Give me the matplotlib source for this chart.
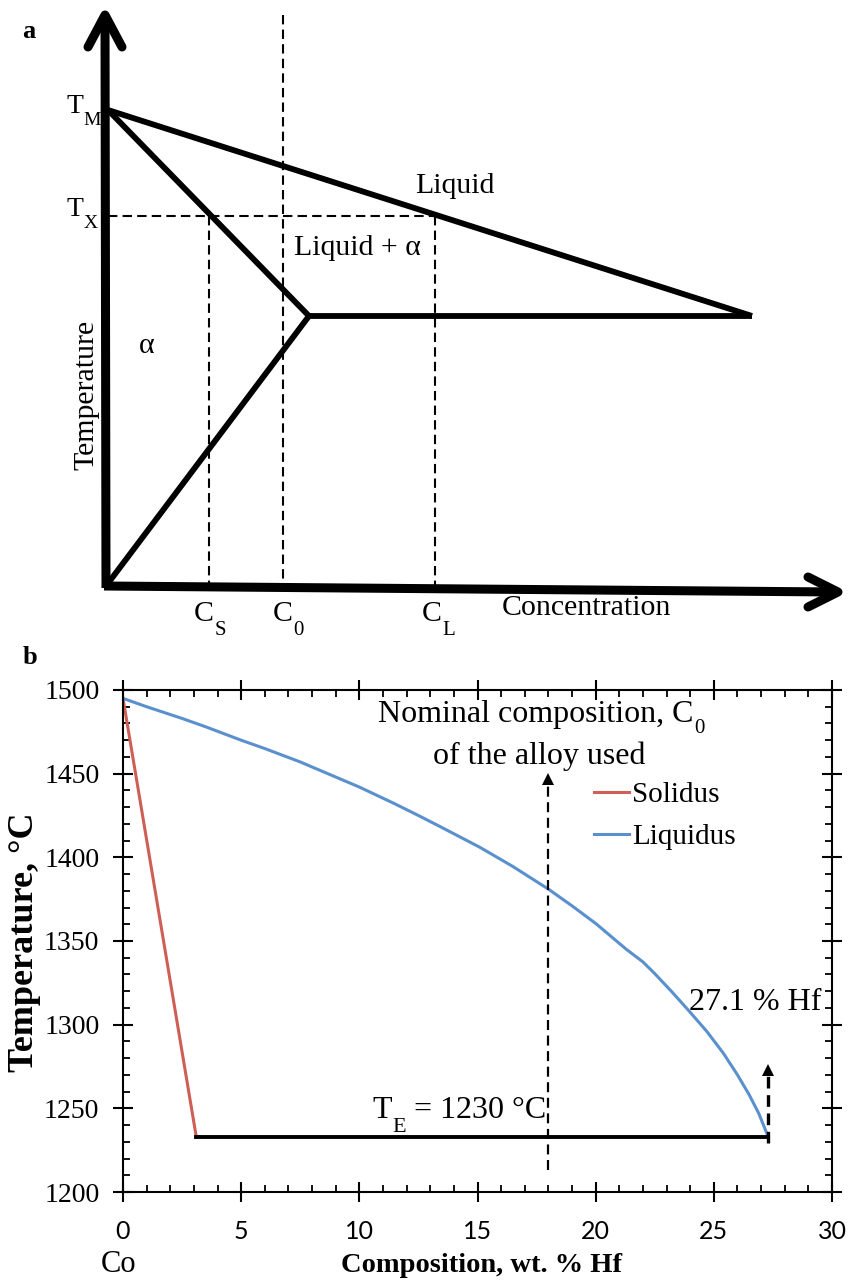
import matplotlib
matplotlib.use("Agg")
import matplotlib.pyplot as plt

plt.rcParams['font.family'] = ['Liberation Serif', 'DejaVu Serif']

# panel b data
solidus_wt = [0, 3.1]
solidus_T = [1495, 1233]
liquidus_wt = [0, 1, 2.5, 3.5, 5, 6, 7.5, 8.5, 10, 11.5, 12.5, 13.4, 15.1, 16.5, 18,
               19, 20, 21.3, 22, 22.5, 23.2, 23.9, 24.7, 25.4, 26, 26.5, 26.9, 27.3]
liquidus_T = [1495, 1490, 1483, 1478, 1470, 1465, 1457, 1451, 1442, 1432, 1425, 1418.5, 1406, 1394.5, 1381,
              1371, 1360.5, 1345, 1337.5, 1330.5, 1320, 1309, 1296, 1283, 1270, 1258, 1247, 1233]
eutectic_wt = [3.1, 27.3]
eutectic_T = [1233, 1233]
c0_wt = 18
c0_arrow_T = [1213, 1447]
ce_wt = 27.3
ce_arrow_T = [1229, 1273]
xticks = [0, 5, 10, 15, 20, 25, 30]
yticks = [1200, 1250, 1300, 1350, 1400, 1450, 1500]

# panel a schematic, in figure pixels
tm = (108, 110)
eut = (309, 316)
liq_end = (752, 316)
origin = (106, 586)
tx_y = 216
cs_x, c0_x, cl_x = 209, 283, 435
vaxis = [(106, 588), (105, 18)]
haxis = [(104, 586), (836, 592)]


def sub_label(ax, x, y, main, sub, size, subsize, drop, **kw):
    # word-style subscript: hangs below the baseline of the main text
    t = ax.text(x, y, main, fontsize=size, va='baseline', **kw)
    ax.annotate(sub, xy=(1, 0), xycoords=t, xytext=(0.3, -drop), textcoords='offset points',
                fontsize=subsize, ha='left', va='baseline')
    return t


fig = plt.figure(figsize=(8.52, 12.81), dpi=100)

# ---------- panel a ----------
H = 640
axa = fig.add_axes([0, 1 - H / 1281, 1, H / 1281])
axa.set_xlim(0, 852)
axa.set_ylim(H, 0)
axa.axis('off')

thick = dict(color='black', lw=6.5, solid_capstyle='round')
axa.plot([p[0] for p in vaxis], [p[1] for p in vaxis], color='black', lw=6.5, solid_capstyle='butt')
axa.plot([p[0] for p in haxis], [p[1] for p in haxis], color='black', lw=6.5, solid_capstyle='butt')
axa.plot([88, 105, 122], [47, 15, 47], **thick)
axa.plot([808, 838, 808], [577, 592, 607], **thick)

ph = dict(color='black', lw=4.2, solid_joinstyle='miter', solid_capstyle='butt')
axa.plot([tm[0], liq_end[0]], [tm[1], liq_end[1]], **ph)
axa.plot([tm[0], eut[0], origin[0]], [tm[1], eut[1], origin[1]], **ph)
axa.plot([eut[0], liq_end[0]], [eut[1], liq_end[1]], **ph)

dash = dict(color='black', lw=1.5, dashes=(4.5, 2.5))
axa.plot([108, cl_x], [tx_y, tx_y], **dash)
axa.plot([cs_x, cs_x], [tx_y, 586], **dash)
axa.plot([c0_x, c0_x], [15, 586], **dash)
axa.plot([cl_x, cl_x], [tx_y, 588], **dash)

fs_a = 21.5
sub_label(axa, 83, 113, 'T', 'M', 20, 14, 4.3, ha='right')
sub_label(axa, 83, 216, 'T', 'X', 20, 14, 4.3, ha='right')
axa.text(455, 193, 'Liquid', fontsize=fs_a, ha='center', va='baseline')
axa.text(357, 255, 'Liquid + α', fontsize=fs_a, ha='center', va='baseline')
axa.text(147, 353, 'α', fontsize=fs_a, ha='center', va='baseline')
axa.text(86, 395, 'Temperature', fontsize=fs_a, rotation=90, ha='center', va='center')
sub_label(axa, 214, 621, 'C', 'S', fs_a, 15, 6, ha='right')
sub_label(axa, 293, 621, 'C', '0', fs_a, 15, 6, ha='right')
sub_label(axa, 442, 621, 'C', 'L', fs_a, 15, 6, ha='right')
axa.text(586, 615, 'Concentration', fontsize=fs_a, ha='center', va='baseline')
axa.text(29, 38, 'a', fontsize=19, fontweight='bold', ha='center', va='baseline')

# ---------- panel b ----------
left, right, top, bottom = 123, 832, 690, 1192
ax = fig.add_axes([left / 852, 1 - bottom / 1281, (right - left) / 852, (bottom - top) / 1281])
ax.plot(solidus_wt, solidus_T, color='#cf5f55', lw=2.2, label='Solidus')
ax.plot(liquidus_wt, liquidus_T, color='#5a90cd', lw=2.2, label='Liquidus')
ax.plot(eutectic_wt, eutectic_T, color='black', lw=2.8)

ax.plot([c0_wt, c0_wt], c0_arrow_T, color='black', lw=1.6, dashes=(4.5, 2.5))
ax.plot([c0_wt], [c0_arrow_T[1]], marker='^', color='black', ms=9, mew=0)
ax.plot([ce_wt, ce_wt], ce_arrow_T, color='black', lw=2.4, dashes=(3.5, 2))
ax.plot([ce_wt], [ce_arrow_T[1]], marker='^', color='black', ms=9, mew=0)

ax.set_xlim(0, 30)
ax.set_ylim(1200, 1500)
ax.set_xticks(xticks)
ax.set_yticks(yticks)
ax.set_xticks(range(0, 31), minor=True)
ax.set_yticks(range(1200, 1501, 10), minor=True)
for s in ax.spines.values():
    s.set_linewidth(1.5)
ax.tick_params(which='major', direction='inout', length=14, width=1.5,
               top=True, right=True)
ax.tick_params(which='minor', direction='in', length=5, width=1.3,
               top=True, right=True)
ax.tick_params(axis='y', which='major', pad=10, labelsize=20)
ax.tick_params(axis='x', which='major', pad=13, labelsize=18)
for lab in ax.get_xticklabels():
    lab.set_family(['Lato', 'DejaVu Sans'])

# "Nominal composition, C0" ends at the subscript, near 24.2 wt.%
sub_label(ax, 24.15, 1481, 'Nominal composition, C', '0', 23, 15, 3, ha='right')
ax.text(17.6, 1456, 'of the alloy used', fontsize=23, ha='center', va='baseline')
ax.text(23.95, 1309, '27.1 % Hf', fontsize=23, ha='left', va='baseline')
sub_label(ax, 10.55, 1244, 'T', 'E', 23, 16, 5, ha='left')
ax.text(17.9, 1244, '= 1230 °C', fontsize=23, ha='right', va='baseline')

ax.legend(loc='upper left', bbox_to_anchor=(0.665, 0.818), frameon=False,
          fontsize=21, handlelength=1.2, handletextpad=0.1, labelspacing=0.55,
          borderpad=0, borderaxespad=0)

fig.text(30 / 852, 1 - 664 / 1281, 'b', fontsize=19, fontweight='bold', ha='center', va='baseline')
fig.text(119 / 852, 1 - 1272 / 1281, 'Co', fontsize=22, ha='center', va='baseline')
fig.text(482 / 852, 1 - 1272 / 1281, 'Composition, wt. % Hf', fontsize=20.5, fontweight='bold',
         ha='center', va='baseline')
fig.text(25 / 852, 1 - 942 / 1281, 'Temperature, °C', fontsize=26, fontweight='bold',
         rotation=90, ha='center', va='center')

fig.savefig('out.png', dpi=100)
